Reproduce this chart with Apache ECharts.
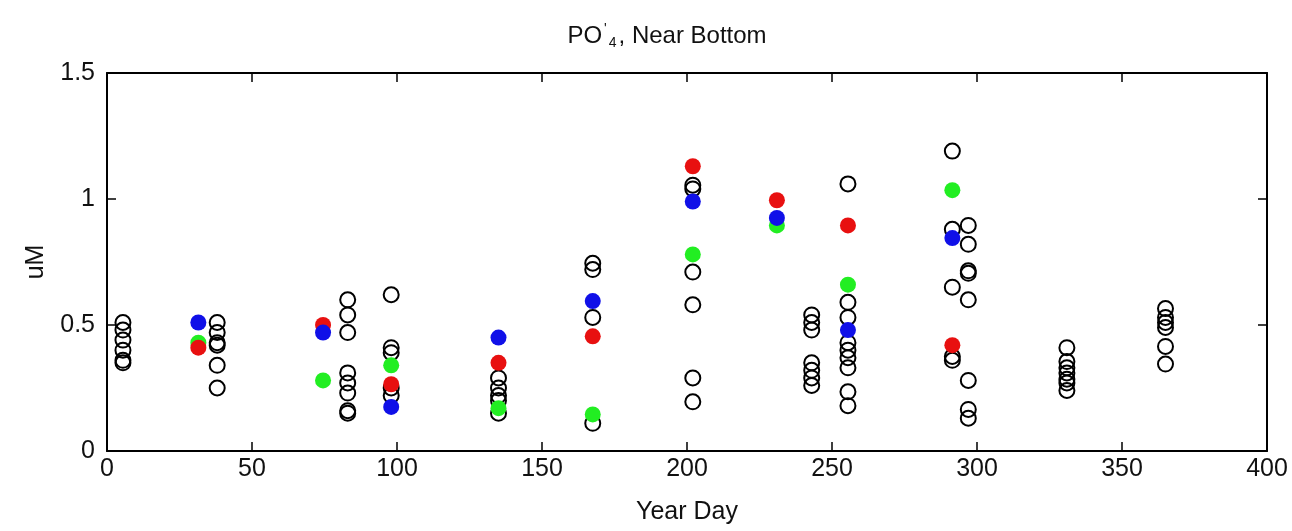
<!DOCTYPE html>
<html><head><meta charset="utf-8">
<script src="https://cdn.jsdelivr.net/npm/echarts@6/dist/echarts.min.js"></script>
<style>html,body{margin:0;padding:0;background:#fff}#c{width:1292px;height:531px}</style>
</head><body><div id="c"></div>
<script>
// Open (black) circles: year day and value (uM)
const openDays = [
  5.5,5.5,5.5,5.5,5.5,5.5,
  38,38,38,38,38,38,
  83,83,83,83,83,83,83,83,
  98,98,98,98,98,
  135,135,135,135,135,
  167.5,167.5,167.5,167.5,
  202,202,202,202,202,202,
  243,243,243,243,243,243,243,
  255.5,255.5,255.5,255.5,255.5,255.5,255.5,255.5,255.5,
  291.5,291.5,291.5,291.5,291.5,
  297,297,297,297,297,297,297,297,
  331,331,331,331,331,331,331,
  365,365,365,365,365,365
];
const openValues = [
  0.51,0.48,0.44,0.40,0.36,0.35,
  0.51,0.47,0.43,0.42,0.34,0.25,
  0.60,0.54,0.47,0.31,0.27,0.23,0.16,0.15,
  0.62,0.41,0.39,0.25,0.22,
  0.29,0.25,0.22,0.20,0.15,
  0.745,0.72,0.53,0.11,
  1.055,1.04,0.71,0.58,0.29,0.195,
  0.54,0.51,0.48,0.35,0.32,0.29,0.26,
  1.06,0.59,0.53,0.43,0.40,0.37,0.33,0.235,0.18,
  1.19,0.88,0.65,0.375,0.36,
  0.895,0.82,0.715,0.705,0.60,0.28,0.165,0.13,
  0.41,0.355,0.33,0.31,0.285,0.27,0.24,
  0.565,0.53,0.51,0.49,0.415,0.345
];
// Coloured series
const redDays = [31.5, 74.5, 98, 135, 167.5, 202, 231, 255.5, 291.5];
const redValues = [0.41, 0.50, 0.265, 0.35, 0.455, 1.13, 0.995, 0.895, 0.42];
const greenDays = [31.5, 74.5, 98, 135, 167.5, 202, 231, 255.5, 291.5];
const greenValues = [0.43, 0.28, 0.34, 0.17, 0.145, 0.78, 0.895, 0.66, 1.035];
const blueDays = [31.5, 74.5, 98, 135, 167.5, 202, 231, 255.5, 291.5];
const blueValues = [0.51, 0.47, 0.175, 0.45, 0.595, 0.99, 0.925, 0.48, 0.845];
const xTicks = [0, 50, 100, 150, 200, 250, 300, 350, 400];
const yTicks = [0, 0.5, 1, 1.5];

const pairs = (xs, ys) => xs.map((x, i) => [x, ys[i]]);
const FONT = '"Liberation Sans", Arial, sans-serif';
const TXT = '#111';
const chart = echarts.init(document.getElementById('c'));
const axisCommon = {
  type: 'value',
  axisLine: { show: true, onZero: false, lineStyle: { color: '#000', width: 2 } },
  axisTick: { show: true, inside: true, length: 9, lineStyle: { color: '#000', width: 1.5 } },
  splitLine: { show: false }
};
chart.setOption({
  animation: false,
  backgroundColor: '#fff',
  title: {
    text: '{n|PO}{s|\'}{b|4}{n|, Near Bottom}',
    left: 662, top: 17, textAlign: 'center',
    textStyle: {
      fontWeight: 'normal',
      rich: {
        n: { fontFamily: FONT, fontSize: 24, color: TXT, fontWeight: 'normal' },
        s: { fontFamily: FONT, fontSize: 14, color: TXT, verticalAlign: 'top', padding: [0,2,12,2] },
        b: { fontFamily: FONT, fontSize: 14, color: TXT, verticalAlign: 'bottom', padding: [14,2,0,0] }
      }
    }
  },
  grid: { left: 107, right: 25, top: 73, bottom: 80 },
  xAxis: [
    Object.assign({}, axisCommon, {
      min: 0, max: 400, interval: 50, position: 'bottom',
      name: 'Year Day', nameLocation: 'middle', nameGap: 49,
      nameTextStyle: { fontFamily: FONT, fontSize: 25, color: TXT },
      axisLabel: { fontFamily: FONT, fontSize: 25, color: TXT, margin: 6,
        formatter: v => xTicks.includes(v) ? String(v) : '' }
    }),
    Object.assign({}, axisCommon, {
      min: 0, max: 400, interval: 50, position: 'top', axisLabel: { show: false }
    })
  ],
  yAxis: [
    Object.assign({}, axisCommon, {
      min: 0, max: 1.5, interval: 0.5, position: 'left',
      name: 'uM', nameLocation: 'middle', nameGap: 58, nameRotate: 90,
      nameTextStyle: { fontFamily: FONT, fontSize: 25, color: TXT },
      axisLabel: { fontFamily: FONT, fontSize: 25, color: TXT, margin: 12,
        formatter: v => yTicks.includes(v) ? String(v) : '' }
    }),
    Object.assign({}, axisCommon, {
      min: 0, max: 1.5, interval: 0.5, position: 'right', axisLabel: { show: false }
    })
  ],
  series: [
    { type: 'scatter', data: pairs(openDays, openValues), symbol: 'circle', symbolSize: 15,
      itemStyle: { color: 'rgba(255,255,255,0)', borderColor: '#000', borderWidth: 2, opacity: 1 }, z: 2 },
    { type: 'scatter', data: pairs(greenDays, greenValues), symbol: 'circle', symbolSize: 16,
      itemStyle: { color: '#22ee22', opacity: 1 }, z: 3 },
    { type: 'scatter', data: pairs(redDays, redValues), symbol: 'circle', symbolSize: 16,
      itemStyle: { color: '#e81010', opacity: 1 }, z: 4 },
    { type: 'scatter', data: pairs(blueDays, blueValues), symbol: 'circle', symbolSize: 16,
      itemStyle: { color: '#1010e8', opacity: 1 }, z: 5 }
  ]
});
</script></body></html>
